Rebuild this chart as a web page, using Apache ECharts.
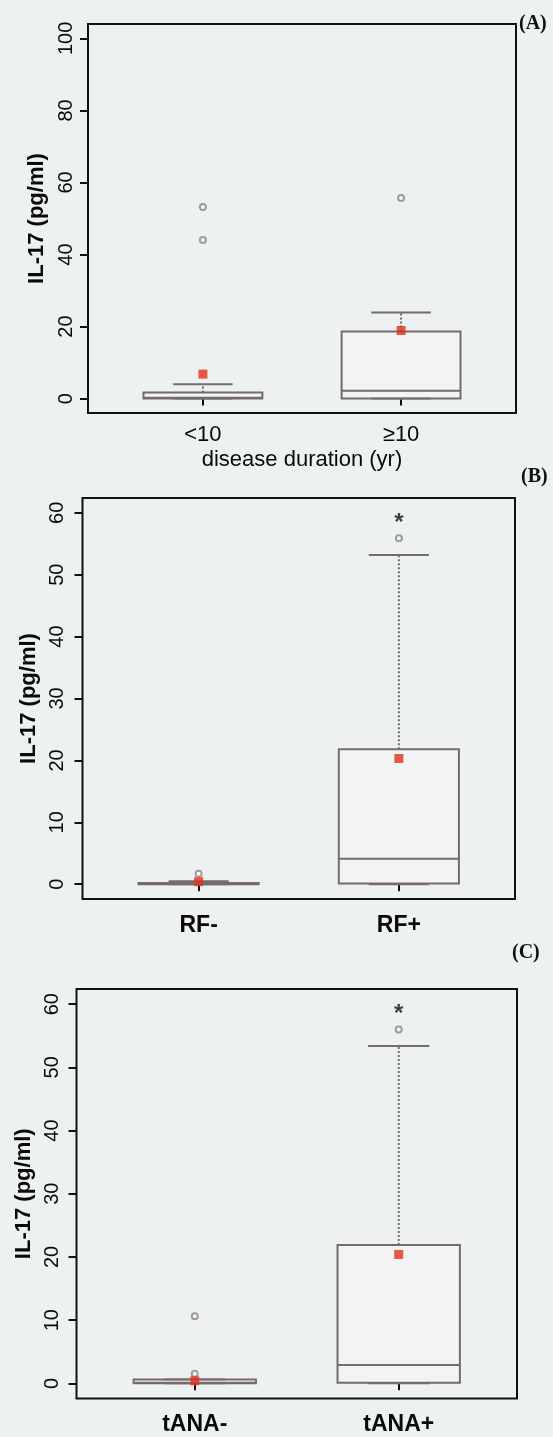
<!DOCTYPE html>
<html><head><meta charset="utf-8">
<script src="https://cdn.jsdelivr.net/npm/echarts@6/dist/echarts.min.js"></script>
<style>html,body{margin:0;padding:0;background:#eef1f1;} #c{width:553px;height:1437px;}</style>
</head><body><div id="c"></div>
<script>
// ---- data ----
const catsA = ['<10', '≥10'];
// [lower whisker, Q1, median, Q3, upper whisker]
const boxA = [[0, 0, 0.2, 1.7, 4.0], [0, 0, 2.2, 18.6, 23.9]];
const meanA = [6.8, 18.9];
const outA = [[53.2, 44.0], [55.7]];
const ticksA = [0, 20, 40, 60, 80, 100];

const catsB = ['RF-', 'RF+'];
const boxB = [[0, 0, 0.1, 0.2, 0.45], [0, 0.1, 4.1, 21.8, 53.2]];
const meanB = [0.4, 20.3];
const outB = [[1.7], [55.9]];
const starB = [null, 59.2];
const ticksB = [0, 10, 20, 30, 40, 50, 60];

const catsC = ['tANA-', 'tANA+'];
const boxC = [[0, 0, 0.1, 0.6, 0.6], [0, 0.1, 2.9, 21.9, 53.4]];
const meanC = [0.4, 20.4];
const outC = [[10.6, 1.5], [56.0]];
const starC = [null, 59.4];
const ticksC = [0, 10, 20, 30, 40, 50, 60];

// ---- style ----
const BOXC = '#766b6b';
const FONT = '"Liberation Sans", Arial, sans-serif';

const panels = [
  {cats: catsA, box: boxA, mean: meanA, out: outA, star: null, ticks: ticksA, ymin: -4, ymax: 104,
   grid: {left: 88, top: 24, width: 428, height: 389}, xname: 'disease duration (yr)',
   xlabel: {fontSize: 22, fontWeight: 'normal', margin: 11}, ynameGap: 31, ylabSize: 20, ylabMargin: 12},
  {cats: catsB, box: boxB, mean: meanB, out: outB, star: starB, ticks: ticksB, ymin: -2.4, ymax: 62.4,
   grid: {left: 82.5, top: 498, width: 432.5, height: 401}, xname: '',
   xlabel: {fontSize: 23, fontWeight: 'bold', margin: 15}, ynameGap: 43, ylabSize: 20, ylabMargin: 15},
  {cats: catsC, box: boxC, mean: meanC, out: outC, star: starC, ticks: ticksC, ymin: -2.4, ymax: 62.4,
   grid: {left: 76.5, top: 989, width: 440.5, height: 409.5}, xname: '',
   xlabel: {fontSize: 23, fontWeight: 'bold', margin: 15}, ynameGap: 40, ylabSize: 20, ylabMargin: 14}
];

function renderBox(params, api) {
  const x = api.value(0), lo = api.value(1), q1 = api.value(2), med = api.value(3), q3 = api.value(4), hi = api.value(5);
  const hw = 0.3, cw = 0.15;
  const tl = api.coord([x - hw, q3]), br = api.coord([x + hw, q1]);
  const pHi = api.coord([x, hi]), pLo = api.coord([x, lo]);
  const pQ3 = api.coord([x, q3]), pQ1 = api.coord([x, q1]);
  const cl = api.coord([x - cw, hi])[0], cr = api.coord([x + cw, hi])[0];
  const pMed = api.coord([x, med]);
  const solid = {stroke: BOXC, lineWidth: 2, fill: null};
  const dash = {stroke: BOXC, lineWidth: 2, lineDash: [2, 2], fill: null};
  return {type: 'group', children: [
    {type: 'line', shape: {x1: pQ3[0], y1: pQ3[1], x2: pHi[0], y2: pHi[1]}, style: dash},
    {type: 'line', shape: {x1: pQ1[0], y1: pQ1[1], x2: pLo[0], y2: pLo[1]}, style: dash},
    {type: 'line', shape: {x1: cl, y1: pHi[1], x2: cr, y2: pHi[1]}, style: solid},
    {type: 'line', shape: {x1: cl, y1: pLo[1], x2: cr, y2: pLo[1]}, style: solid},
    {type: 'rect', shape: {x: tl[0], y: tl[1], width: br[0] - tl[0], height: br[1] - tl[1]}, style: {stroke: BOXC, lineWidth: 2, fill: 'rgba(255,255,255,0.25)'}},
    {type: 'line', shape: {x1: tl[0], y1: pMed[1], x2: br[0], y2: pMed[1]}, style: solid}
  ]};
}

const grids = [], xAxes = [], yAxes = [], series = [];
panels.forEach((p, i) => {
  grids.push(Object.assign({show: true, borderColor: '#111', borderWidth: 2, backgroundColor: 'transparent'}, p.grid));
  xAxes.push({
    type: 'value', gridIndex: i, min: 0.42, max: 2.58,
    axisLine: {show: false}, splitLine: {show: false},
    axisTick: {show: true, customValues: [1, 2], length: 7, lineStyle: {color: '#111', width: 2}},
    axisLabel: {customValues: [1, 2], formatter: v => p.cats[Math.round(v) - 1], color: '#0a0a0a',
      fontFamily: FONT, fontSize: p.xlabel.fontSize, fontWeight: p.xlabel.fontWeight, margin: p.xlabel.margin},
    name: p.xname, nameLocation: 'middle', nameGap: 36,
    nameTextStyle: {fontFamily: FONT, fontSize: 22, color: '#0a0a0a'}
  });
  yAxes.push({
    type: 'value', gridIndex: i, min: p.ymin, max: p.ymax,
    axisLine: {show: false}, splitLine: {show: false},
    axisTick: {show: true, customValues: p.ticks, length: 8, lineStyle: {color: '#111', width: 2}},
    axisLabel: {customValues: p.ticks, rotate: 90, color: '#0a0a0a', fontFamily: FONT, fontSize: p.ylabSize, margin: p.ylabMargin},
    name: 'IL-17 (pg/ml)', nameLocation: 'middle', nameRotate: 90, nameGap: p.ynameGap,
    nameTextStyle: {fontFamily: FONT, fontSize: 22, fontWeight: 'bold', color: '#0a0a0a'}
  });
  series.push({
    type: 'custom', xAxisIndex: i, yAxisIndex: i, renderItem: renderBox,
    data: p.box.map((b, k) => [k + 1].concat(b)), z: 2, silent: true
  });
  series.push({
    type: 'scatter', xAxisIndex: i, yAxisIndex: i, symbol: 'emptyCircle', symbolSize: 6,
    itemStyle: {color: '#8c8282', borderColor: '#857a7a', borderWidth: 2},
    data: p.out.flatMap((arr, k) => arr.map(v => [k + 1, v])), z: 3, silent: true
  });
  series.push({
    type: 'scatter', xAxisIndex: i, yAxisIndex: i, symbol: 'rect', symbolSize: 9,
    itemStyle: {color: '#e3301d'},
    data: p.mean.map((v, k) => [k + 1, v]), z: 4, silent: true
  });
  if (p.star) {
    series.push({
      type: 'scatter', xAxisIndex: i, yAxisIndex: i, symbolSize: 0,
      label: {show: true, position: 'inside', formatter: '*', fontSize: 24, fontWeight: 'bold', color: '#111', fontFamily: FONT, offset: [0, 6]},
      data: p.star.map((v, k) => v == null ? null : [k + 1, v]).filter(d => d), z: 5, silent: true
    });
  }
});

const chart = echarts.init(document.getElementById('c'), null, {renderer: 'canvas'});
chart.setOption({
  backgroundColor: '#eef1f1',
  animation: false,
  grid: grids, xAxis: xAxes, yAxis: yAxes, series: series,
  graphic: [
    {type: 'text', left: 519, top: 14, style: {text: '(A)', font: 'bold 20px "Liberation Serif", serif', fill: '#111'}},
    {type: 'text', left: 521, top: 467, style: {text: '(B)', font: 'bold 20px "Liberation Serif", serif', fill: '#111'}},
    {type: 'text', left: 512, top: 943, style: {text: '(C)', font: 'bold 20px "Liberation Serif", serif', fill: '#111'}}
  ]
});
</script>
</body></html>
